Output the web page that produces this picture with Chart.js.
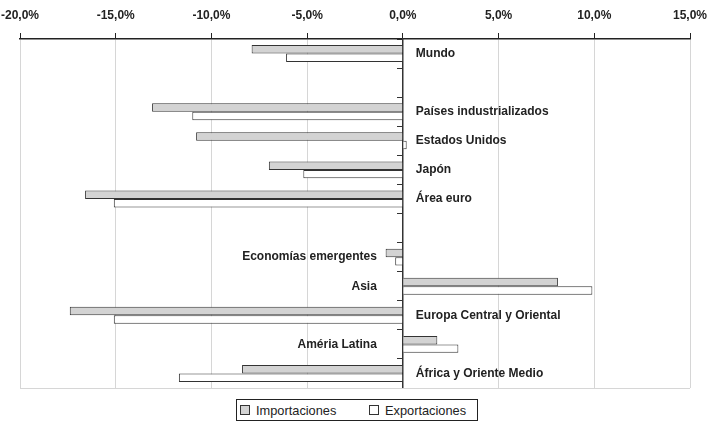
<!DOCTYPE html>
<html>
<head>
<meta charset="utf-8">
<script src="https://cdn.jsdelivr.net/npm/chart.js@4/dist/chart.umd.min.js"></script>
<style>
  html, body { margin: 0; padding: 0; background: #fff; }
  #wrap { position: relative; width: 708px; height: 422px; overflow: hidden; }
  #chart { position: absolute; left: 0; top: 0; }
  #legend {
    position: absolute; left: 236px; top: 399px; width: 240px; height: 20px;
    border: 1px solid #222; background: #fff;
    font: 12.8px "Liberation Sans", Arial, sans-serif; color: #222;
  }
  #legend .item { position: absolute; top: 0; height: 20px; display: flex; align-items: center; white-space: nowrap; }
  #legend .sw { width: 8px; height: 8px; border: 1px solid #333; margin-right: 6px; }
</style>
</head>
<body>
<div id="wrap">
  <canvas id="chart" width="708" height="389"></canvas>
  <div id="legend"></div>
</div>
<script>
// Rows of the chart (empty strings are spacer rows between groups)
const categories = [
  'Mundo', '',
  'Países industrializados', 'Estados Unidos', 'Japón', 'Área euro', '',
  'Economías emergentes', 'Asia', 'Europa Central y Oriental', 'Améria Latina', 'África y Oriente Medio'
];
// Percentage change, imports and exports
const importaciones = [-7.9, null, -13.1, -10.8, -7.0, -16.6, null, -0.9, 8.1, -17.4, 1.8, -8.4];
const exportaciones = [-6.1, null, -11.0, 0.2, -5.2, -15.1, null, -0.4, 9.9, -15.1, 2.9, -11.7];
const seriesNames = ['Importaciones', 'Exportaciones'];
// Value axis ticks
const xTicks = [-20, -15, -10, -5, 0, 5, 10, 15];

const FONT = '"Liberation Sans", Arial, Helvetica, sans-serif';
const fmtPct = v => v.toFixed(1).replace('.', ',') + '%';

// Category names written beside the zero line, on whichever side the bars leave free
const categoryLabels = {
  id: 'categoryLabels',
  afterDatasetsDraw(chart) {
    const { ctx, scales: { x, y } } = chart;
    const zero = x.getPixelForValue(0);
    ctx.save();
    ctx.font = 'bold 12px ' + FONT;
    ctx.fillStyle = '#222';
    ctx.textBaseline = 'middle';
    categories.forEach((name, i) => {
      if (!name) return;
      const lo = Math.min(0, importaciones[i] ?? 0, exportaciones[i] ?? 0);
      const yc = y.getPixelForValue(i);
      if (x.getPixelForValue(lo) < zero - 26) {
        ctx.textAlign = 'left';
        ctx.fillText(name, zero + 13, yc);
      } else {
        ctx.textAlign = 'right';
        ctx.fillText(name, zero - 26, yc);
      }
    });
    ctx.restore();
  }
};

// Thin light rule closing the plot area at the bottom
const bottomRule = {
  id: 'bottomRule',
  beforeDatasetsDraw(chart) {
    const { ctx, chartArea: a } = chart;
    ctx.save();
    ctx.strokeStyle = '#d6d6d6';
    ctx.lineWidth = 1;
    ctx.beginPath();
    ctx.moveTo(a.left, Math.round(a.bottom) + 0.5);
    ctx.lineTo(a.right, Math.round(a.bottom) + 0.5);
    ctx.stroke();
    ctx.restore();
  }
};

const chart = new Chart(document.getElementById('chart'), {
  type: 'bar',
  data: {
    labels: categories,
    datasets: [
      {
        label: seriesNames[0],
        data: importaciones,
        backgroundColor: '#d3d3d3',
        borderColor: '#333',
        borderWidth: 1
      },
      {
        label: seriesNames[1],
        data: exportaciones,
        backgroundColor: '#ffffff',
        borderColor: '#333',
        borderWidth: 1
      }
    ]
  },
  options: {
    indexAxis: 'y',
    responsive: false,
    animation: false,
    devicePixelRatio: 1,
    layout: { padding: { left: 20, right: 18, top: 0, bottom: 1 } },
    datasets: { bar: { categoryPercentage: 0.58, barPercentage: 1.0 } },
    plugins: {
      legend: { display: false },
      tooltip: { enabled: false }
    },
    scales: {
      x: {
        type: 'linear',
        position: 'top',
        min: xTicks[0],
        max: xTicks[xTicks.length - 1],
        afterBuildTicks(scale) { scale.ticks = xTicks.map(v => ({ value: v })); },
        afterFit(scale) {
          scale.height = 39;
          scale.paddingLeft = 0;
          scale.paddingRight = 0;
        },
        ticks: {
          callback: v => fmtPct(v),
          font: { family: FONT, size: 12, weight: 'bold' },
          color: '#222',
          padding: 10,
          maxRotation: 0
        },
        grid: {
          color: '#d6d6d6',
          lineWidth: 1,
          tickColor: '#222',
          tickLength: 6,
          drawTicks: true
        },
        border: { display: true, color: '#222', width: 1.5 }
      },
      y: {
        type: 'category',
        position: { x: 0 },
        offset: true,
        z: 1,
        afterFit(scale) { scale.width = 0; },
        ticks: { display: false },
        grid: {
          display: true,
          offset: true,
          drawOnChartArea: false,
          drawTicks: true,
          tickLength: 5,
          tickColor: '#333',
          color: '#333'
        },
        border: { display: true, color: '#333', width: 1.5 }
      }
    }
  },
  plugins: [bottomRule, categoryLabels]
});

// Legend built from the chart's datasets
const legendEl = document.getElementById('legend');
const itemLefts = [3, 132];
chart.data.datasets.forEach((ds, i) => {
  const item = document.createElement('div');
  item.className = 'item';
  item.style.left = itemLefts[i] + 'px';
  const sw = document.createElement('span');
  sw.className = 'sw';
  sw.style.background = ds.backgroundColor;
  sw.style.borderColor = ds.borderColor;
  const txt = document.createElement('span');
  txt.textContent = ds.label;
  item.appendChild(sw);
  item.appendChild(txt);
  legendEl.appendChild(item);
});
</script>
</body>
</html>
